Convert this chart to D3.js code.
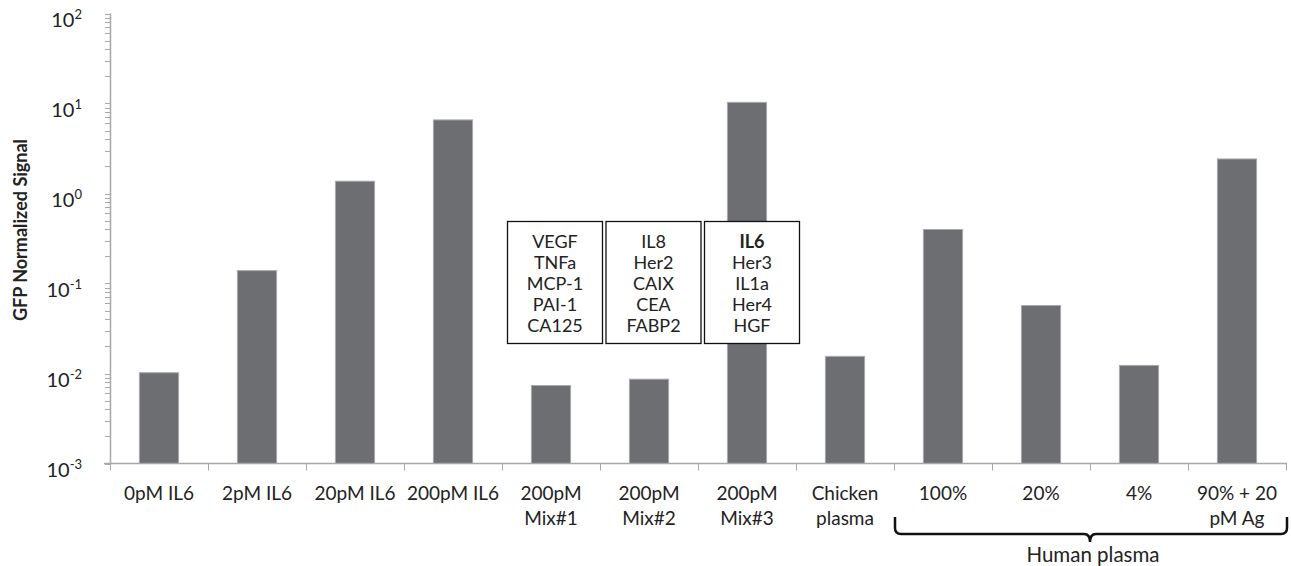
<!DOCTYPE html>
<html>
<head>
<meta charset="utf-8">
<script src="https://cdnjs.cloudflare.com/ajax/libs/d3/7.8.5/d3.min.js"></script>
<style>
  body { margin: 0; background: #fff; }
  text { font-family: Lato, "Open Sans", sans-serif; fill: #222; }
</style>
</head>
<body>
<div id="chart-container"></div>
<script>
// data
const categories = ["0pM IL6", "2pM IL6", "20pM IL6", "200pM IL6", "200pM Mix#1", "200pM Mix#2",
  "200pM Mix#3", "Chicken plasma", "100%", "20%", "4%", "90% + 20 pM Ag"];
const categoryLines = [["0pM IL6"], ["2pM IL6"], ["20pM IL6"], ["200pM IL6"], ["200pM", "Mix#1"],
  ["200pM", "Mix#2"], ["200pM", "Mix#3"], ["Chicken", "plasma"], ["100%"], ["20%"], ["4%"], ["90% + 20", "pM Ag"]];
const signal = [0.0102, 0.139, 1.37, 6.57, 0.00736, 0.00865, 10.3, 0.0155, 0.398, 0.057, 0.0123, 2.42];
const yExponents = [-3, -2, -1, 0, 1, 2];

// boxes listing the antigens in each mix
const mixes = ["200pM Mix#1", "200pM Mix#2", "200pM Mix#3"];
const mixContents = [
  ["VEGF", "TNFa", "MCP-1", "PAI-1", "CA125"],
  ["IL8", "Her2", "CAIX", "CEA", "FABP2"],
  ["IL6", "Her3", "IL1a", "Her4", "HGF"]
];
const plasmaGroup = ["100%", "20%", "4%", "90% + 20 pM Ag"];

const W = 1291, H = 566;
const axisCol = "#a8a8a8";

const svg = d3.select("#chart-container").append("svg")
  .attr("width", W).attr("height", H);

const x = d3.scaleBand().domain(categories).range([110, 1286])
  .paddingInner(0.6).paddingOuter(0.3);
const y = d3.scaleLog().domain([1e-3, 1e2]).range([463.5, 13.5]);

const step = x.step();
const left = c => x(c) + x.bandwidth() / 2 - step / 2;

//bars
svg.selectAll(".bar").data(categories).join("rect")
  .attr("class", "bar")
  .attr("x", c => x(c))
  .attr("width", x.bandwidth())
  .attr("y", (c, i) => y(signal[i]))
  .attr("height", (c, i) => y(1e-3) - y(signal[i]))
  .attr("fill", "#6d6e71")
  .attr("stroke", "#a9aaad")
  .attr("stroke-width", 1);

//y axis with minor ticks
const yTicks = [];
for (let e = -3; e < 2; e++) {
  for (let m = 1; m < 10; m++) yTicks.push(m * Math.pow(10, e));
}
yTicks.push(100);
svg.append("line")
  .attr("x1", 110.5).attr("x2", 110.5)
  .attr("y1", y(100)).attr("y2", y(1e-3))
  .attr("stroke", axisCol).attr("stroke-width", 1.5);
svg.selectAll(".ytick").data(yTicks).join("line")
  .attr("x1", 105).attr("x2", 110.5)
  .attr("y1", d => Math.round(y(d)) + 0.5).attr("y2", d => Math.round(y(d)) + 0.5)
  .attr("stroke", axisCol).attr("stroke-width", 1);

const yLab = svg.selectAll(".ylab").data(yExponents).join("text")
  .attr("text-anchor", "end")
  .attr("x", 82)
  .attr("y", d => y(Math.pow(10, d)) + 13)
  .style("font-size", "20px");
yLab.append("tspan").text("10");
yLab.append("tspan").attr("dy", -8).style("font-size", "13px").text(d => d);

//y title
svg.append("text")
  .attr("transform", "translate(27,230) rotate(-90)")
  .attr("text-anchor", "middle")
  .style("font-size", "18px").style("font-weight", "bold")
  .text("GFP Normalized Signal");

//x axis
svg.append("line")
  .attr("x1", 104).attr("x2", 1287)
  .attr("y1", y(1e-3)).attr("y2", y(1e-3))
  .attr("stroke", axisCol).attr("stroke-width", 1.5);
const xTicks = categories.map(left).concat([left(categories[categories.length - 1]) + step]);
svg.selectAll(".xtick").data(xTicks).join("line")
  .attr("x1", d => Math.round(d) + 0.5).attr("x2", d => Math.round(d) + 0.5)
  .attr("y1", y(1e-3)).attr("y2", y(1e-3) + 7)
  .attr("stroke", axisCol).attr("stroke-width", 1);

const xLab = svg.selectAll(".xlab").data(categories).join("text")
  .attr("text-anchor", "middle")
  .attr("x", c => x(c) + x.bandwidth() / 2)
  .attr("y", 500)
  .style("font-size", "19px");
xLab.selectAll("tspan").data((c, i) => categoryLines[i]).join("tspan")
  .attr("x", function () { return this.parentNode.getAttribute("x"); })
  .attr("dy", (d, j) => j === 0 ? 0 : 25)
  .text(d => d);

//mix boxes
mixes.forEach((m, i) => {
  const bx = left(m) + 5.5 + i * 0.5, by = 221.5, bw = 95, bh = 122;
  const g = svg.append("g");
  g.append("rect")
    .attr("x", bx).attr("y", by).attr("width", bw).attr("height", bh)
    .attr("fill", "#fff").attr("stroke", "#111").attr("stroke-width", 1.3);
  g.selectAll("text").data(mixContents[i]).join("text")
    .attr("text-anchor", "middle")
    .attr("x", bx + bw / 2)
    .attr("y", (d, j) => by + 26 + j * 21)
    .style("font-size", "18px")
    .style("font-weight", (d, j) => (i === 2 && j === 0) ? "bold" : "normal")
    .text(d => d);
});

//brace under human plasma
const bL = left(plasmaGroup[0]) + 1;
const bR = left(plasmaGroup[plasmaGroup.length - 1]) + step + 1;
const bM = (bL + bR) / 2 - 1;
const bTop = 517, bY = 534;
svg.append("path")
  .attr("d", `M${bL},${bTop} L${bL},${bY - 6} Q${bL},${bY} ${bL + 6},${bY}` +
    ` L${bM - 6},${bY} Q${bM},${bY} ${bM},${bY + 8} Q${bM},${bY} ${bM + 6},${bY}` +
    ` L${bR - 6},${bY} Q${bR},${bY} ${bR},${bY - 6} L${bR},${bTop}`)
  .attr("fill", "none").attr("stroke", "#111").attr("stroke-width", 2.5);
svg.append("text")
  .attr("text-anchor", "middle")
  .attr("x", bM + 3).attr("y", 562)
  .style("font-size", "20.5px")
  .text("Human plasma");
</script>
</body>
</html>
